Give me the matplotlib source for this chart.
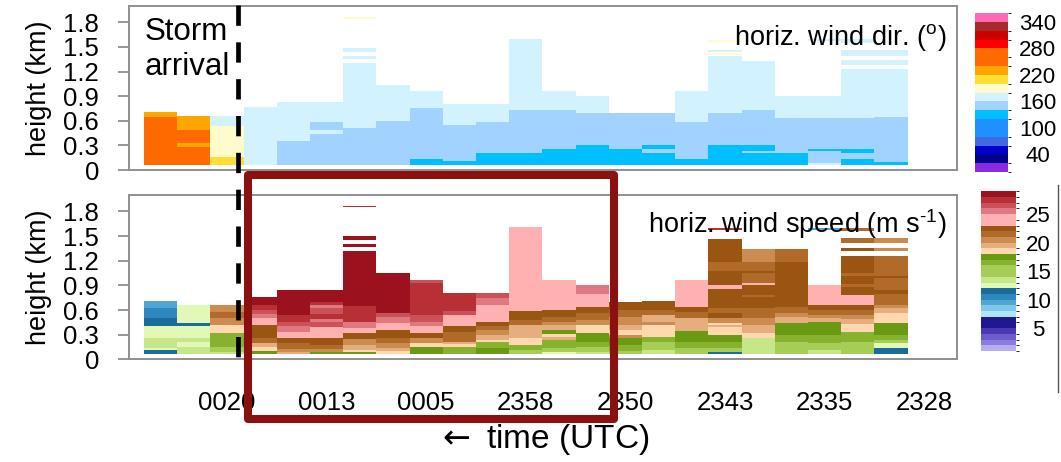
import numpy as np
import matplotlib
matplotlib.use("Agg")
import matplotlib.pyplot as plt
import matplotlib.transforms as mtransforms
from matplotlib.colors import ListedColormap, BoundaryNorm
from matplotlib.lines import Line2D
from matplotlib.patches import Rectangle

plt.rcParams['font.family'] = ['Liberation Sans', 'DejaVu Sans']
plt.rcParams['mathtext.fontset'] = 'custom'
plt.rcParams['mathtext.rm'] = 'Liberation Sans'
plt.rcParams['mathtext.it'] = 'Liberation Sans:italic'
plt.rcParams['mathtext.bf'] = 'Liberation Sans:bold'

# ---------------------------------------------------------------- time axis
tick_columns = [2, 5, 8, 11, 14, 17, 20, 23]
tick_labels = ["0020", "0013", "0005", "2358", "2350", "2343", "2335", "2328"]
storm_arrival_column = 2.83          # dashed line position (column units)
highlight_columns = (3.12, 14.17)    # boxed period

# ---------------------------------------------------------------- height axis
height_ticks = [0, 0.3, 0.6, 0.9, 1.2, 1.5, 1.8]
height_tick_labels = ["0", "0.3", "0.6", "0.9", "1.2", "1.5", "1.8"]
gate_base = 0.06                     # lowest retrieved height (km)

# ---------------------------------------------------------------- colour scales
dir_bounds = list(range(0, 361, 20))
dir_colors = ["#8A2BE2", "#00008B", "#0000CD", "#4169E1", "#1E90FF", "#1E90FF",
              "#00BFFF", "#A2D2FF", "#D2F2FF", "#FFFBCC", "#FFDD33", "#FFA500",
              "#FF6A00", "#FF6A00", "#FF0000", "#CD0000", "#A52A2A", "#FF69B4"]
dir_ticks = [40, 100, 160, 220, 280, 340]

speed_bounds = list(range(1, 30))
speed_colors = ["#B4ACF4", "#8C7CDE", "#6C5CCC", "#4A38B4", "#201890", "#201890",
                "#B0E4FA", "#80C6E6", "#50A6D2", "#2E88BE", "#1A6C9A",
                "#E2F8B6", "#C6E68A", "#A6CE56", "#A6CE56", "#86B230", "#6A9A14",
                "#FFD8B0", "#E6AE7E", "#CC8C50", "#B06A2A", "#9A5512",
                "#FFB0B0", "#FFB0B0", "#E07880", "#CC5058", "#B63036", "#9B111E"]
speed_ticks = [5, 10, 15, 20, 25]

# ---------------------------------------------------------------- profiles
# each column: (top of layer in km, value) from the lowest gate upwards;
# None marks heights with no retrieval
dir_profiles = [
    [(0.65, 260), (0.705, 230)],
    [(0.285, 260), (0.334, 230), (0.489, 260), (0.652, 230)],
    [(0.163, 210), (0.538, 190), (0.66, 170)],
    [(0.762, 170)],
    [(0.358, 150), (0.835, 170)],
    [(0.436, 150), (0.489, 170), (0.582, 150), (0.835, 170)],
    [(0.509, 150), (1.30, 170), (1.357, None), (1.385, 170), (1.44, None),
     (1.49, 170), (1.84, None), (1.865, 190)],
    [(0.603, 150), (1.039, 170)],
    [(0.134, 130), (0.754, 150), (0.957, 170)],
    [(0.106, 130), (0.55, 150), (0.802, 170)],
    [(0.204, 130), (0.582, 150), (0.802, 170)],
    [(0.204, 130), (0.733, 150), (1.601, 170)],
    [(0.257, 130), (0.733, 150), (0.957, 170)],
    [(0.305, 130), (0.701, 150), (0.904, 170)],
    [(0.257, 130), (0.701, 150)],
    [(0.204, 130), (0.257, 150), (0.305, 130), (0.701, 150)],
    [(0.134, 130), (0.582, 150), (0.957, 170)],
    [(0.305, 130), (0.701, 150), (1.385, 170), (1.405, None), (1.426, 190),
     (1.437, None), (1.458, 170), (1.56, None), (1.59, 190)],
    [(0.204, 130), (0.232, 150), (0.305, 130), (0.733, 150), (1.332, 170)],
    [(0.204, 130), (0.64, 150), (0.904, 170)],
    [(0.08, 170), (0.23, 150), (0.257, 130), (0.64, 150), (0.904, 170),
     (1.57, None), (1.60, 170)],
    [(0.134, 130), (0.204, 150), (0.257, 130), (0.64, 150), (1.23, 170),
     (1.28, None), (1.34, 170), (1.39, None), (1.457, 170), (1.55, None), (1.60, 170)],
    [(0.10, 130), (0.65, 150), (1.23, 170), (1.28, None), (1.34, 170),
     (1.39, None), (1.457, 170)],
]

speed_profiles = [
    [(0.11, 11.5), (0.14, 12.5), (0.26, 13.5), (0.40, 12.5), (0.50, 11.5),
     (0.62, 10.5), (0.71, 9.5)],
    [(0.155, 13.5), (0.215, 12.5), (0.26, 13.5), (0.40, 12.5), (0.44, 11.5),
     (0.665, 12.5)],
    [(0.09, 13.5), (0.155, 15), (0.32, 16.5), (0.42, 18.5), (0.50, 20.5),
     (0.58, 21.5), (0.665, 20.5)],
    [(0.10, 17.5), (0.15, 18.5), (0.20, 19.5), (0.26, 21.5), (0.42, 22.5),
     (0.50, 24), (0.55, 25.5), (0.60, 26.5), (0.66, 27.5), (0.76, 28.5)],
    [(0.09, 19.5), (0.13, 20.5), (0.195, 21.5), (0.256, 22.5), (0.33, 24),
     (0.40, 25.5), (0.46, 26.5), (0.54, 27.5), (0.84, 28.5)],
    [(0.09, 17.5), (0.13, 20.5), (0.18, 21.5), (0.26, 22.5), (0.39, 24),
     (0.45, 26.5), (0.49, 25.5), (0.55, 27.5), (0.62, 26.5), (0.66, 25.5),
     (0.70, 27.5), (0.84, 28.5)],
    [(0.085, 17.5), (0.11, 18.5), (0.175, 19.5), (0.25, 20.5), (0.32, 22.5),
     (0.38, 24), (0.46, 25.5), (0.65, 27.5), (1.315, 28.5), (1.364, None),
     (1.397, 28.5), (1.45, None), (1.50, 28.5), (1.85, None), (1.866, 27.5)],
    [(0.10, 18.5), (0.134, 19.5), (0.195, 20.5), (0.256, 21.5), (0.357, 22.5),
     (0.44, 24), (0.52, 25.5), (0.56, 26.5), (1.05, 28.5)],
    [(0.155, 17.5), (0.20, 18.5), (0.26, 20.5), (0.317, 22.5), (0.40, 24),
     (0.46, 25.5), (0.54, 26.5), (0.93, 27.5), (0.96, 26.5)],
    [(0.155, 16.5), (0.19, 18.5), (0.215, 19.5), (0.338, 21.5), (0.40, 22.5),
     (0.54, 24), (0.59, 26.5), (0.813, 27.5)],
    [(0.134, 17.5), (0.215, 16.5), (0.24, 18.5), (0.30, 19.5), (0.36, 20.5),
     (0.40, 21.5), (0.46, 22.5), (0.664, 24), (0.745, 25.5), (0.813, 26.5)],
    [(0.11, 15), (0.175, 16.5), (0.256, 18.5), (0.42, 19.5), (0.476, 21.5),
     (0.59, 22.5), (1.613, 24)],
    [(0.09, 12.5), (0.134, 15), (0.23, 16.5), (0.27, 19.5), (0.31, 18.5),
     (0.36, 17.5), (0.42, 19.5), (0.46, 20.5), (0.52, 21.5), (0.60, 22.5),
     (0.961, 24)],
    [(0.09, 13.5), (0.15, 15), (0.215, 16.5), (0.32, 17.5), (0.42, 18.5),
     (0.48, 20.5), (0.56, 21.5), (0.64, 22.5), (0.79, 24), (0.908, 25.5)],
    [(0.10, 15), (0.175, 16.5), (0.256, 17.5), (0.30, 20.5), (0.36, 18.5),
     (0.42, 19.5), (0.51, 20.5), (0.60, 21.5), (0.70, 22.5)],
    [(0.11, 13.5), (0.215, 15), (0.27, 16.5), (0.42, 18.5), (0.46, 20.5),
     (0.54, 19.5), (0.60, 21.5), (0.71, 22.5)],
    [(0.134, 15), (0.215, 16.5), (0.34, 17.5), (0.50, 19.5), (0.57, 21.5),
     (0.64, 22.5), (0.961, 24)],
    [(0.09, 11.5), (0.134, 15), (0.215, 16.5), (0.30, 17.5), (0.39, 18.5),
     (0.42, 19.5), (0.44, 18.5), (0.50, 20.5), (0.56, 22.5), (0.62, 21.5),
     (0.85, 22.5), (0.91, 24), (1.07, 22.5), (1.19, 21.5), (1.46, 22.5),
     (1.57, None), (1.60, 27.5)],
    [(0.256, 13.5), (0.32, 18.5), (0.42, 19.5), (0.50, 20.5), (0.62, 21.5),
     (0.76, 22.5), (0.78, 21.5), (0.90, 22.5), (0.93, 24), (1.05, 21.5),
     (1.07, 22.5), (1.18, 21.5), (1.344, 20.5)],
    [(0.215, 15), (0.30, 16.5), (0.44, 17.5), (0.52, 19.5), (0.56, 20.5),
     (0.64, 21.5), (1.19, 22.5), (1.344, 21.5)],
    [(0.11, 13.5), (0.20, 15), (0.30, 16.5), (0.46, 17.5), (0.50, 19.5),
     (0.54, 20.5), (0.60, 21.5), (0.664, 22.5), (0.908, 24), (1.57, None),
     (1.60, 9.5)],
    [(0.215, 15), (0.33, 16.5), (0.43, 18.5), (0.49, 19.5), (0.54, 20.5),
     (0.60, 21.5), (0.664, 22.5), (0.78, 24), (0.88, 22.5), (0.92, 21.5),
     (1.02, 22.5), (1.05, 21.5), (1.26, 22.5), (1.32, None), (1.36, 22.5),
     (1.418, None), (1.478, 21.5), (1.56, None), (1.60, 21.5)],
    [(0.134, 11.5), (0.195, 12.5), (0.24, 15), (0.30, 16.5), (0.44, 17.5),
     (0.56, 18.5), (0.62, 19.5), (0.664, 20.5), (0.80, 21.5), (0.84, 22.5),
     (0.99, 21.5), (1.02, 22.5), (1.26, 21.5), (1.32, None), (1.36, 20.5),
     (1.418, None), (1.478, 20.5)],
]


def profiles_to_grid(profiles, z_mid):
    grid = np.full((len(z_mid), len(profiles)), np.nan)
    for j, prof in enumerate(profiles):
        bottom = gate_base
        for top, val in prof:
            if val is not None:
                grid[(z_mid >= bottom) & (z_mid < top), j] = val
            bottom = top
    return np.ma.masked_invalid(grid)


dz = 0.0025
z_edges = np.arange(0, 2.0 + dz / 2, dz)
z_mid = 0.5 * (z_edges[:-1] + z_edges[1:])

W, H = 1061, 462
fig = plt.figure(figsize=(W / 100, H / 100), dpi=100)


def px_axes(x0, y0, x1, y1):
    return fig.add_axes([x0 / W, 1 - y1 / H, (x1 - x0) / W, (y1 - y0) / H])


ax_dir = px_axes(129, 6, 957, 170)
ax_spd = px_axes(129, 195, 957, 359.3)
cax_dir = px_axes(975, 13, 1008, 172)
cax_spd = px_axes(981, 191.3, 1016, 351)

dir_cmap = ListedColormap(dir_colors)
dir_norm = BoundaryNorm(dir_bounds, dir_cmap.N)
spd_cmap = ListedColormap(speed_colors)
spd_norm = BoundaryNorm(speed_bounds, spd_cmap.N)

ncol = len(dir_profiles)
x_edges = np.arange(ncol + 1)
m_dir = ax_dir.pcolormesh(x_edges, z_edges, profiles_to_grid(dir_profiles, z_mid),
                          cmap=dir_cmap, norm=dir_norm, shading='flat',
                          antialiased=False, edgecolors='none')
m_spd = ax_spd.pcolormesh(x_edges, z_edges, profiles_to_grid(speed_profiles, z_mid),
                          cmap=spd_cmap, norm=spd_norm, shading='flat',
                          antialiased=False, edgecolors='none')

spine_col = "#8f8f8f"
for ax in (ax_dir, ax_spd):
    ax.set_xlim(-0.452, 24.49)
    ax.set_ylim(0, 2.0)
    ax.set_yticks(height_ticks)
    ax.set_yticklabels(height_tick_labels)
    ax.tick_params(axis='y', length=8, width=1.3, color=spine_col,
                   labelsize=18.5, pad=13.5)
    ax.set_ylabel("height (km)", fontsize=19.5, labelpad=8)
    for s in ax.spines.values():
        s.set_color(spine_col)
        s.set_linewidth(1.4)

ax_dir.set_xticks([])
ax_spd.set_xticks([c + 0.5 for c in tick_columns])
ax_spd.set_xticklabels(tick_labels)
ax_spd.tick_params(axis='x', length=0, labelsize=18.5, pad=23)
ax_spd.set_xlabel(r"$\leftarrow$ time (UTC)", fontsize=24, labelpad=5,
                  math_fontfamily='dejavusans')

ax_dir.text(0.9876, 0.762, r"horiz. wind dir. ($^{\mathrm{o}}$)", transform=ax_dir.transAxes,
            ha='right', va='baseline', fontsize=19.5)
ax_spd.text(0.9876, 0.77, "horiz. wind speed (m s$^{\\mathrm{\u2010}1}$)",
            transform=ax_spd.transAxes, ha='right', va='baseline', fontsize=19.5)
ax_dir.text(0.0193, 0.793, "Storm", transform=ax_dir.transAxes,
            ha='left', va='baseline', fontsize=22.5)
ax_dir.text(0.0193, 0.579, "arrival", transform=ax_dir.transAxes,
            ha='left', va='baseline', fontsize=22.5)

# colour bars
for cax, mesh, ticks, pad in ((cax_dir, m_dir, dir_ticks, 21.5),
                              (cax_spd, m_spd, speed_ticks, 16)):
    cb = fig.colorbar(mesh, cax=cax, ticks=ticks)
    cb.outline.set_visible(False)
    cax.tick_params(length=0, labelsize=16, pad=pad)
    for t in cax.get_yticklabels():
        t.set_horizontalalignment('center')

# storm arrival marker spanning both panels
blend = mtransforms.blended_transform_factory(ax_spd.transData, fig.transFigure)
fig.add_artist(Line2D([storm_arrival_column] * 2, [1 - 5 / H, 1 - 357 / H],
                      transform=blend, color='black', lw=3.4,
                      linestyle=(0, (4.3, 3.5)), zorder=10))

# boxed period
x0, x1 = highlight_columns
fig.add_artist(Rectangle((x0, 1 - 419 / H), x1 - x0, (419 - 175.5) / H,
                         transform=blend, fill=False, edgecolor='#8B1010',
                         lw=5.8, joinstyle='round', zorder=11))

# thin frame edge at the right of the panel
fig.add_artist(Line2D([1058 / W] * 2, [1 - 185 / H, 1 - 392 / H],
                      transform=fig.transFigure, color='#555555', lw=1.0))

fig.savefig("out.png", dpi=100)
